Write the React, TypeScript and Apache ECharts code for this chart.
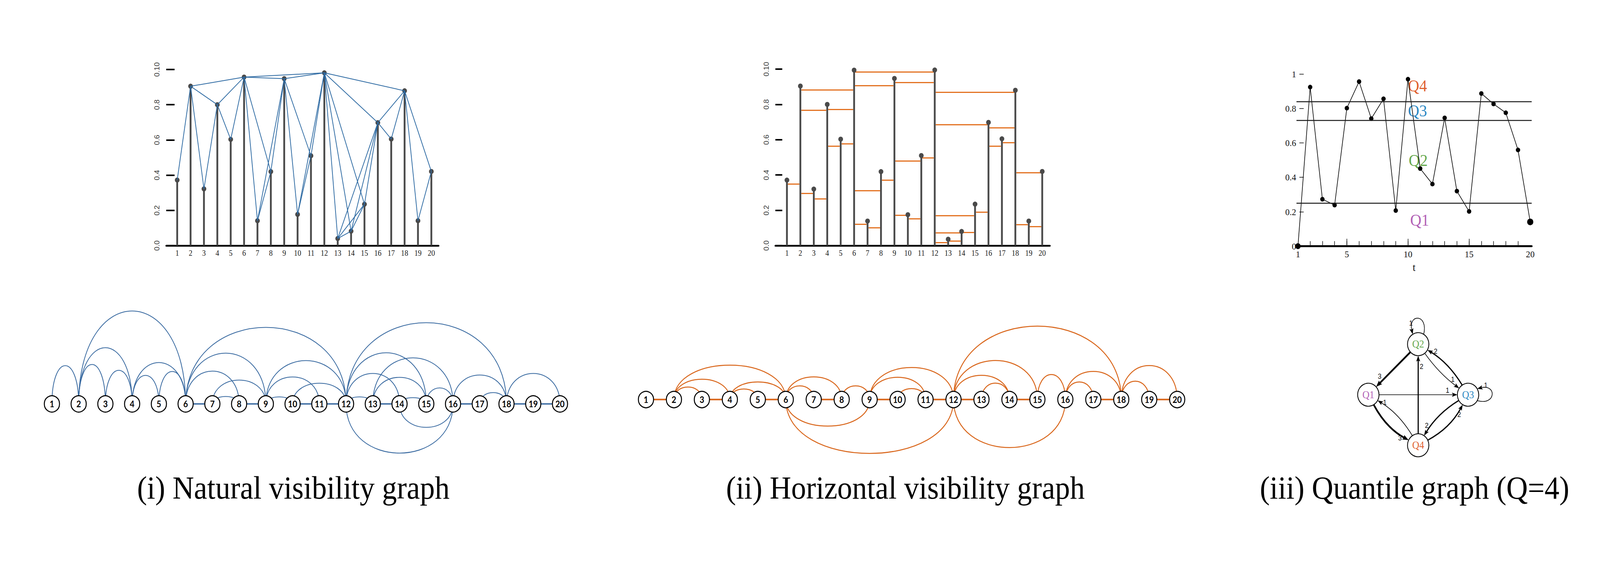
import React, { useEffect, useRef } from 'react';
import * as echarts from 'echarts';

const W = 4418;
const H = 1506;

// ---------- data ----------
const steps = [1, 2, 3, 4, 5, 6, 7, 8, 9, 10, 11, 12, 13, 14, 15, 16, 17, 18, 19, 20];
const nvgValues = [0.372, 0.905, 0.322, 0.8, 0.603, 0.957, 0.141, 0.42, 0.948, 0.177, 0.51, 0.981, 0.04, 0.082, 0.235, 0.698, 0.605, 0.879, 0.141, 0.421];
const hvgValues = [0.371, 0.904, 0.32, 0.8, 0.603, 0.994, 0.139, 0.419, 0.947, 0.175, 0.51, 0.995, 0.036, 0.08, 0.235, 0.698, 0.605, 0.88, 0.139, 0.42];
const stemTickValues = [0, 0.2, 0.4, 0.6, 0.8, 1];
const stemTickLabels = ['0.0', '0.2', '0.4', '0.6', '0.8', '0.10'];

// natural visibility edges
const nvgEdges = [
  [1, 2], [2, 3], [2, 4], [2, 6], [3, 4], [4, 5], [4, 6], [5, 6], [6, 7], [6, 8], [6, 9], [6, 12],
  [7, 8], [7, 9], [8, 9], [9, 10], [9, 11], [9, 12], [10, 11], [10, 12], [11, 12], [12, 13], [12, 14],
  [12, 15], [12, 16], [12, 18], [13, 14], [13, 15], [13, 16], [14, 15], [14, 16], [15, 16], [16, 17],
  [16, 18], [17, 18], [18, 19], [18, 20], [19, 20],
];
// arc lift (in px units of the arc-diagram axis; negative = below)
const nvgArcLift = [
  98, 101, 144, 238, 86, 73, 106, 83, 0, 84, 130, 196,
  19, 61, 0, 18, 69, 111, 0, 53, 0, 18, 78,
  131, -126, 208, 0, 68, 118, 16, -60, 41, 0,
  74, 29, 0, 78, 0,
];

// horizontal visibility links: [from, to, level]
const hvgLinks = [
  [1, 2, 0.35], [2, 3, 0.296], [2, 4, 0.768], [2, 6, 0.883], [3, 4, 0.264], [4, 5, 0.563], [4, 6, 0.771],
  [5, 6, 0.577], [6, 7, 0.122], [6, 8, 0.312], [6, 9, 0.906], [6, 12, 0.984], [7, 8, 0.102], [8, 9, 0.371],
  [9, 10, 0.173], [9, 11, 0.48], [9, 12, 0.925], [10, 11, 0.152], [11, 12, 0.497], [12, 13, 0.017],
  [12, 14, 0.072], [12, 15, 0.17], [12, 16, 0.685], [12, 18, 0.87], [13, 14, 0.025], [14, 15, 0.075],
  [15, 16, 0.19], [16, 17, 0.563], [16, 18, 0.667], [17, 18, 0.584], [18, 19, 0.12], [18, 20, 0.413],
  [19, 20, 0.107],
];
const hvgArcLift = [
  0, 32, 52, 88, 0, 27, 45,
  0, 35, 58, -68, -138, 0, 35,
  0, 57, 82, 28, 0, 0,
  62, 100, -123, 188, 42, 0,
  64, 45, 72, 0, 47, 87,
  0,
];

// quantile graph time series
const qSeries = [0, 0.924, 0.273, 0.239, 0.802, 0.956, 0.741, 0.856, 0.207, 0.97, 0.451, 0.361, 0.745, 0.32, 0.202, 0.887, 0.826, 0.775, 0.559, 0.141];
const qThresholds = [0.25, 0.727, 0.842];
const qTickValues = [0, 0.2, 0.4, 0.6, 0.8, 1];
const qTickLabels = ['0', '0.2', '0.4', '0.6', '0.8', '1'];
const qYTicks = [0.2, 0.4, 0.6, 0.8, 1];
const tLabelValues = [1, 5, 10, 15, 20];
const tMinorTicks = [2, 3, 4, 5, 6, 7, 8, 9, 10, 11, 12, 13, 14, 15, 16, 17, 18, 19];
const tMajorTicks = [5, 10, 15];
const qNodes = ['Q1', 'Q2', 'Q3', 'Q4'];
const qColors = ['#b262b6', '#66a84d', '#2b88c3', '#df6130'];
// directed transitions [from, to, weight] (1-based quantile index)
const qEdges = [
  [2, 2, 1], [2, 1, 3], [4, 2, 2], [2, 3, 1], [3, 2, 2], [3, 3, 1],
  [1, 3, 1], [4, 1, 1], [1, 4, 3], [3, 4, 2], [4, 3, 2],
];
const titles = ['(i) Natural visibility graph', '(ii) Horizontal visibility graph', '(iii) Quantile graph (Q=4)'];

// ---------- layout / style ----------
const qLayout = [[-1, 0], [0, 1], [1, 0], [0, -1]];
const qEdgeBend = [0, 0, 0, 0.08, 0.12, 0, 0, 0.12, 0.15, 0.12, 0.15];
const qLoopDir: Record<number, number> = { 1: -90, 2: 0 };
const qLabelAt = [
  [-0.147, 1.411], [-0.773, 0.368], [0.068, 0.561], [0.693, 0.303], [0.349, 0.857], [1.355, 0.188],
  [0.588, 0.085], [-0.67, -0.152], [-0.365, -0.855], [0.171, -0.61], [0.821, -0.392],
];
const Q_R = 29.5;

const serif = 'Liberation Serif';
const sans = 'Liberation Sans';
const BLUE = '#2c69a2';
const BLUE_ARC = '#3869a0';
const ORANGE = '#e37222';
const ORANGE_ARC = '#d9661b';
const STEM = '#4a4a4a';

function nearestIdx(arr: number[], v: number) {
  let bi = 0;
  for (let i = 0; i < arr.length; i++) if (Math.abs(arr[i] - v) < Math.abs(arr[bi] - v)) bi = i;
  return bi;
}

function stemXAxis(gridIndex: number, min: number, max: number) {
  return {
    type: 'value', gridIndex, min, max, position: 'bottom',
    axisLine: { show: true, onZero: false, lineStyle: { color: '#000', width: 4.5 } },
    axisTick: { show: false }, splitLine: { show: false },
    axisLabel: { show: true, customValues: steps, margin: 9, color: '#1a1a1a', fontFamily: serif, fontSize: 20 },
  };
}
function stemYAxis(gridIndex: number, tickLen: number) {
  return {
    type: 'value', gridIndex, min: 0, max: 1, interval: 0.2, position: 'left',
    axisLine: { show: false, onZero: false }, splitLine: { show: false },
    axisTick: { show: true, inside: true, length: tickLen, lineStyle: { color: '#000', width: 4 } },
    axisLabel: {
      show: true, rotate: 90, margin: 16, color: '#3a3a3a', fontFamily: sans, fontSize: 19,
      formatter: (v: number) => stemTickLabels[nearestIdx(stemTickValues, v)],
    },
  };
}
function hiddenAxis(gridIndex: number, min: number, max: number) {
  return { type: 'value', gridIndex, min, max, show: false, axisLine: { onZero: false }, splitLine: { show: false } };
}

function arcRenderer(color: string, arcWidth: number, lineWidth: number) {
  return (params: any, api: any) => {
    const i = api.value(0), j = api.value(1), h = api.value(2);
    const a = api.coord([i, 0]);
    const b = api.coord([j, 0]);
    const t = api.coord([i, h]);
    const cy = a[1] + (t[1] - a[1]) * 4 / 3;
    return {
      type: 'bezierCurve',
      shape: { x1: a[0], y1: a[1], x2: b[0], y2: b[1], cpx1: a[0], cpy1: cy, cpx2: b[0], cpy2: cy },
      style: { stroke: color, lineWidth: h === 0 ? lineWidth : arcWidth, fill: 'none' },
    };
  };
}

function unit(x: number, y: number) {
  const l = Math.hypot(x, y) || 1;
  return [x / l, y / l];
}

function quantileEdgeRenderer(params: any, api: any) {
  const k = params.dataIndex;
  const from = api.value(0), to = api.value(1), w = api.value(2);
  const A = api.coord(qLayout[from]);
  const B = api.coord(qLayout[to]);
  const lw = [0, 1.7, 3.1, 4.6][w];
  const L = w >= 3 ? 17 : 15;
  const HW = w >= 3 ? 6.5 : 5.5;
  const children: any[] = [];
  let tip: number[], tan: number[];
  if (from === to) {
    const a = (qLoopDir[from] * Math.PI) / 180;
    const s = (31 * Math.PI) / 180, s2 = (14 * Math.PI) / 180, len = 55;
    const P0 = [A[0] + Q_R * Math.cos(a + s), A[1] + Q_R * Math.sin(a + s)];
    const P3 = [A[0] + Q_R * Math.cos(a - s), A[1] + Q_R * Math.sin(a - s)];
    const C1 = [P0[0] + len * Math.cos(a + s2), P0[1] + len * Math.sin(a + s2)];
    const C2 = [P3[0] + len * Math.cos(a - s2), P3[1] + len * Math.sin(a - s2)];
    tip = P3;
    tan = unit(P3[0] - C2[0], P3[1] - C2[1]);
    const end = [tip[0] - tan[0] * L * 0.7, tip[1] - tan[1] * L * 0.7];
    children.push({
      type: 'bezierCurve',
      shape: { x1: P0[0], y1: P0[1], x2: end[0], y2: end[1], cpx1: C1[0], cpy1: C1[1], cpx2: C2[0], cpy2: C2[1] },
      style: { stroke: '#000', lineWidth: lw, fill: 'none' },
    });
  } else {
    const dx = B[0] - A[0], dy = B[1] - A[1];
    const dl = Math.hypot(dx, dy);
    const n = [-dy / dl, dx / dl];
    const bend = qEdgeBend[k];
    const C = [(A[0] + B[0]) / 2 + bend * dl * n[0], (A[1] + B[1]) / 2 + bend * dl * n[1]];
    const u0 = unit(C[0] - A[0], C[1] - A[1]);
    const u1 = unit(C[0] - B[0], C[1] - B[1]);
    const P0 = [A[0] + Q_R * u0[0], A[1] + Q_R * u0[1]];
    tip = [B[0] + Q_R * u1[0], B[1] + Q_R * u1[1]];
    tan = [-u1[0], -u1[1]];
    const end = [tip[0] - tan[0] * L * 0.7, tip[1] - tan[1] * L * 0.7];
    children.push({
      type: 'bezierCurve',
      shape: { x1: P0[0], y1: P0[1], x2: end[0], y2: end[1], cpx1: C[0], cpy1: C[1] },
      style: { stroke: '#000', lineWidth: lw, fill: 'none' },
    });
  }
  const base = [tip[0] - tan[0] * L, tip[1] - tan[1] * L];
  const nx = -tan[1], ny = tan[0];
  children.push({
    type: 'polygon',
    shape: { points: [[tip[0], tip[1]], [base[0] + nx * HW, base[1] + ny * HW], [base[0] + tan[0] * 3, base[1] + tan[1] * 3], [base[0] - nx * HW, base[1] - ny * HW]] },
    style: { fill: '#000', stroke: 'none' },
  });
  const lp = api.coord(qLabelAt[k]);
  children.push({
    type: 'text',
    style: {
      text: String(w), x: lp[0], y: lp[1], fill: '#111', fontSize: 18, fontFamily: sans,
      align: 'center', verticalAlign: 'middle', textAlign: 'center', textVerticalAlign: 'middle',
    },
  });
  return { type: 'group', children };
}

function nodeScatter(xAxisIndex: number, yAxisIndex: number) {
  return {
    type: 'scatter', xAxisIndex, yAxisIndex, z: 5, silent: true,
    data: steps.map((s) => [s, 0]),
    symbol: 'circle', symbolSize: 42,
    itemStyle: { color: '#fff', borderColor: '#000', borderWidth: 2.7, opacity: 1 },
    label: {
      show: true, position: 'inside', formatter: (p: any) => String(p.value[0]),
      color: '#000', fontFamily: 'Lato', fontWeight: 'bold', fontSize: 22,
    },
  };
}

function textEl(text: string, x: number, y: number, fontSize: number, color: string, family: string) {
  return {
    type: 'text', x, y, silent: true,
    style: {
      text, fill: color, fontSize, fontFamily: family,
      align: 'center', verticalAlign: 'middle', textAlign: 'center', textVerticalAlign: 'middle',
    },
  };
}

function buildOption() {
  const grids = [
    { left: 459, top: 178, width: 752, height: 451 },
    { left: 2141, top: 177, width: 758, height: 452 },
    { left: 3579.9, top: 189.6, width: 649.5, height: 441 },
    { left: 69.5, top: 774.5, width: 1550.6, height: 410 },
    { left: 1706.5, top: 823.3, width: 1621.2, height: 360 },
    { left: 3709.5, top: 816.75, width: 413, height: 388.5 },
  ].map((g) => ({ ...g, containLabel: false, outerBoundsMode: 'none', show: false }));

  const xAxis = [
    stemXAxis(0, 0.18, 20.54),
    stemXAxis(1, 0.14, 20.57),
    {
      type: 'value', gridIndex: 2, min: 0.88, max: 20.12, position: 'bottom',
      axisLine: { show: true, onZero: false, lineStyle: { color: '#000', width: 5 } },
      axisTick: { show: true, inside: true, customValues: tMinorTicks, length: 13, lineStyle: { color: '#111', width: 1.6 } },
      axisLabel: { show: true, customValues: tLabelValues, margin: 8, color: '#111', fontFamily: serif, fontSize: 24 },
      splitLine: { show: false },
      name: 't', nameLocation: 'middle', nameGap: 40,
      nameTextStyle: { fontFamily: serif, fontSize: 28, color: '#111' },
    },
    {
      type: 'value', gridIndex: 2, min: 0.88, max: 20.12, position: 'bottom', offset: 0,
      axisLine: { show: false, onZero: false },
      axisTick: { show: true, inside: true, customValues: tMajorTicks, length: 19, lineStyle: { color: '#111', width: 1.6 } },
      axisLabel: { show: false }, splitLine: { show: false },
    },
    hiddenAxis(3, 0, 21),
    hiddenAxis(4, 0, 21),
    hiddenAxis(5, -1.5, 1.5),
  ];

  const yAxis = [
    stemYAxis(0, 23),
    stemYAxis(1, 19),
    {
      type: 'value', gridIndex: 2, min: 0, max: 1, position: 'left', offset: -8,
      axisLine: { show: false, onZero: false }, splitLine: { show: false },
      axisTick: { show: true, inside: true, customValues: qYTicks, length: 12, lineStyle: { color: '#111', width: 1.6 } },
      axisLabel: {
        show: true, customValues: qTickValues, margin: 9, color: '#111', fontFamily: serif, fontSize: 24,
        formatter: (v: number) => qTickLabels[nearestIdx(qTickValues, v)],
      },
    },
    hiddenAxis(3, -150, 260),
    hiddenAxis(4, -160, 200),
    hiddenAxis(5, -1.5, 1.5),
  ];

  const series: any[] = [
    {
      type: 'bar', xAxisIndex: 0, yAxisIndex: 0, barWidth: 5, z: 2, silent: true,
      data: steps.map((s, k) => [s, nvgValues[k]]), itemStyle: { color: STEM },
    },
    {
      type: 'scatter', xAxisIndex: 0, yAxisIndex: 0, z: 3, silent: true, symbol: 'circle', symbolSize: 13,
      data: steps.map((s, k) => [s, nvgValues[k]]), itemStyle: { color: STEM, opacity: 1 },
    },
    {
      type: 'lines', coordinateSystem: 'cartesian2d', xAxisIndex: 0, yAxisIndex: 0, z: 4, silent: true,
      data: nvgEdges.map(([a, b]) => ({ coords: [[a, nvgValues[a - 1]], [b, nvgValues[b - 1]]] })),
      lineStyle: { color: BLUE, width: 2, opacity: 1, curveness: 0 },
    },
    {
      type: 'lines', coordinateSystem: 'cartesian2d', xAxisIndex: 1, yAxisIndex: 1, z: 1, silent: true,
      data: hvgLinks.map(([a, b, lv]) => ({ coords: [[a + 0.07, lv], [b - 0.07, lv]] })),
      lineStyle: { color: ORANGE, width: 3, opacity: 1, curveness: 0 },
    },
    {
      type: 'bar', xAxisIndex: 1, yAxisIndex: 1, barWidth: 5, z: 2, silent: true,
      data: steps.map((s, k) => [s, hvgValues[k]]), itemStyle: { color: STEM },
    },
    {
      type: 'scatter', xAxisIndex: 1, yAxisIndex: 1, z: 3, silent: true, symbol: 'circle', symbolSize: 13,
      data: steps.map((s, k) => [s, hvgValues[k]]), itemStyle: { color: STEM, opacity: 1 },
    },
    {
      type: 'line', xAxisIndex: 2, yAxisIndex: 2, z: 3, silent: true, clip: false,
      data: steps.map((s, k) => [s, qSeries[k]]),
      symbol: 'circle', showAllSymbol: true,
      symbolSize: (_v: any, p: any) => (p.dataIndex === 19 ? 17 : p.dataIndex === 0 ? 15 : 12),
      itemStyle: { color: '#000', opacity: 1 },
      lineStyle: { color: '#000', width: 1.7 },
      markLine: {
        silent: true, symbol: ['none', 'none'], label: { show: false },
        lineStyle: { color: '#1a1a1a', width: 2.6, type: 'solid' },
        data: qThresholds.map((q) => ({ yAxis: q })),
      },
    },
    {
      type: 'custom', coordinateSystem: 'cartesian2d', xAxisIndex: 4, yAxisIndex: 3, z: 2, silent: true, clip: false,
      data: nvgEdges.map(([a, b], k) => [a, b, nvgArcLift[k]]),
      renderItem: arcRenderer(BLUE_ARC, 2.1, 3.6),
    },
    nodeScatter(4, 3),
    {
      type: 'custom', coordinateSystem: 'cartesian2d', xAxisIndex: 5, yAxisIndex: 4, z: 2, silent: true, clip: false,
      data: hvgLinks.map(([a, b], k) => [a, b, hvgArcLift[k]]),
      renderItem: arcRenderer(ORANGE_ARC, 2.5, 4),
    },
    nodeScatter(5, 4),
    {
      type: 'custom', coordinateSystem: 'cartesian2d', xAxisIndex: 6, yAxisIndex: 5, z: 2, silent: true, clip: false,
      data: qEdges.map(([a, b, w]) => [a - 1, b - 1, w]),
      renderItem: quantileEdgeRenderer,
    },
    {
      type: 'scatter', xAxisIndex: 6, yAxisIndex: 5, z: 5, silent: true, symbol: 'circle', symbolSize: 59,
      data: qLayout.map((p, k) => ({ value: p, name: qNodes[k], label: { color: qColors[k] } })),
      itemStyle: { color: '#fff', borderColor: '#000', borderWidth: 2.2, opacity: 1 },
      label: { show: true, position: 'inside', formatter: (p: any) => p.name, fontFamily: serif, fontSize: 27 },
    },
  ];

  const graphic = [
    textEl(titles[0], 810, 1250, 82, '#000', serif),
    textEl(titles[1], 2500, 1250, 82, '#000', serif),
    textEl(titles[2], 3906, 1250, 82, '#000', serif),
    textEl(qNodes[3], 3914, 219, 43, qColors[3], serif),
    textEl(qNodes[2], 3914, 283, 43, qColors[2], serif),
    textEl(qNodes[1], 3916, 410, 43, qColors[1], serif),
    textEl(qNodes[0], 3920, 563, 43, qColors[0], serif),
  ];

  return { animation: false, backgroundColor: '#fff', grid: grids, xAxis, yAxis, series, graphic };
}

export default function App() {
  const ref = useRef<HTMLDivElement>(null);
  useEffect(() => {
    const el = ref.current;
    if (!el) return;
    // fit the 4418x1506 design into whatever viewport the page actually gets
    const sx = window.innerWidth / W;
    const sy = window.innerHeight / H;
    el.style.transform = `scale(${sx}, ${sy})`;
    el.style.transformOrigin = '0 0';
    const chart = echarts.init(el, undefined, { renderer: 'svg', width: W, height: H });
    chart.setOption(buildOption() as any);
    return () => chart.dispose();
  }, []);
  return (
    <div
      ref={ref}
      style={{ position: 'fixed', left: 0, top: 0, width: W, height: H, background: '#fff' }}
    />
  );
}
